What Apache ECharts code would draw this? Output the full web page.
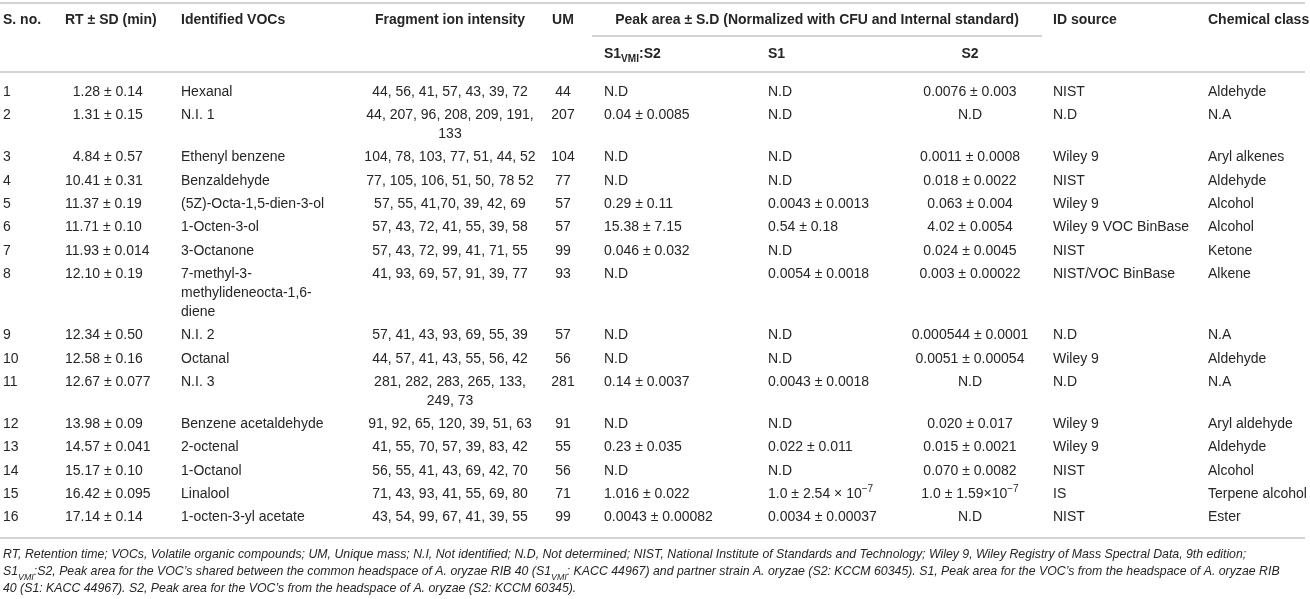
<!DOCTYPE html>
<html>
<head>
<meta charset="utf-8">
<script src="https://cdn.jsdelivr.net/npm/echarts/dist/echarts.min.js"></script>
<style>
html,body{margin:0;padding:0;background:#fff;}
#chart{width:1310px;height:599px;}
</style>
</head>
<body>
<div id="chart"></div>
<script>
// ---------------- DATA ----------------
const headerLabels = ['S. no.', 'RT ± SD (min)', 'Identified VOCs', 'Fragment ion intensity', 'UM',
  'Peak area ± S.D (Normalized with CFU and Internal standard)', 'ID source', 'Chemical class'];
const subHeaderLabels = ['S1_{VMI}:S2', 'S1', 'S2'];

const sNo = ['1','2','3','4','5','6','7','8','9','10','11','12','13','14','15','16'];
const retentionTime = ['1.28 ± 0.14','1.31 ± 0.15','4.84 ± 0.57','10.41 ± 0.31','11.37 ± 0.19','11.71 ± 0.10',
  '11.93 ± 0.014','12.10 ± 0.19','12.34 ± 0.50','12.58 ± 0.16','12.67 ± 0.077','13.98 ± 0.09',
  '14.57 ± 0.041','15.17 ± 0.10','16.42 ± 0.095','17.14 ± 0.14'];
const identifiedVOCs = ['Hexanal','N.I. 1','Ethenyl benzene','Benzaldehyde','(5Z)-Octa-1,5-dien-3-ol','1-Octen-3-ol',
  '3-Octanone','7-methyl-3-\nmethylideneocta-1,6-\ndiene','N.I. 2','Octanal','N.I. 3','Benzene acetaldehyde',
  '2-octenal','1-Octanol','Linalool','1-octen-3-yl acetate'];
const fragmentIons = ['44, 56, 41, 57, 43, 39, 72','44, 207, 96, 208, 209, 191,\n133','104, 78, 103, 77, 51, 44, 52',
  '77, 105, 106, 51, 50, 78 52','57, 55, 41,70, 39, 42, 69','57, 43, 72, 41, 55, 39, 58','57, 43, 72, 99, 41, 71, 55',
  '41, 93, 69, 57, 91, 39, 77','57, 41, 43, 93, 69, 55, 39','44, 57, 41, 43, 55, 56, 42','281, 282, 283, 265, 133,\n249, 73',
  '91, 92, 65, 120, 39, 51, 63','41, 55, 70, 57, 39, 83, 42','56, 55, 41, 43, 69, 42, 70','71, 43, 93, 41, 55, 69, 80',
  '43, 54, 99, 67, 41, 39, 55'];
const uniqueMass = ['44','207','104','77','57','57','99','93','57','56','281','91','55','56','71','99'];
const peakSharedS1S2 = ['N.D','0.04 ± 0.0085','N.D','N.D','0.29 ± 0.11','15.38 ± 7.15','0.046 ± 0.032','N.D','N.D','N.D',
  '0.14 ± 0.0037','N.D','0.23 ± 0.035','N.D','1.016 ± 0.022','0.0043 ± 0.00082'];
const peakS1 = ['N.D','N.D','N.D','N.D','0.0043 ± 0.0013','0.54 ± 0.18','N.D','0.0054 ± 0.0018','N.D','N.D',
  '0.0043 ± 0.0018','N.D','0.022 ± 0.011','N.D','1.0 ± 2.54 × 10^{−7}','0.0034 ± 0.00037'];
const peakS2 = ['0.0076 ± 0.003','N.D','0.0011 ± 0.0008','0.018 ± 0.0022','0.063 ± 0.004','4.02 ± 0.0054',
  '0.024 ± 0.0045','0.003 ± 0.00022','0.000544 ± 0.0001','0.0051 ± 0.00054','N.D','0.020 ± 0.017',
  '0.015 ± 0.0021','0.070 ± 0.0082','1.0 ± 1.59×10^{−7}','N.D'];
const idSource = ['NIST','N.D','Wiley 9','NIST','Wiley 9','Wiley 9 VOC BinBase','NIST','NIST/VOC BinBase','N.D',
  'Wiley 9','N.D','Wiley 9','Wiley 9','NIST','IS','NIST'];
const chemicalClass = ['Aldehyde','N.A','Aryl alkenes','Aldehyde','Alcohol','Alcohol','Ketone','Alkene','N.A',
  'Aldehyde','N.A','Aryl aldehyde','Aldehyde','Alcohol','Terpene alcohol','Ester'];
const footnoteLines = [
  'RT, Retention time; VOCs, Volatile organic compounds; UM, Unique mass; N.I, Not identified; N.D, Not determined; NIST, National Institute of Standards and Technology; Wiley 9, Wiley Registry of Mass Spectral Data, 9th edition;',
  'S1_{VMI}:S2, Peak area for the VOC\u2019s shared between the common headspace of A. oryzae RIB 40 (S1_{VMI}: KACC 44967) and partner strain A. oryzae (S2: KCCM 60345). S1, Peak area for the VOC\u2019s from the headspace of A. oryzae RIB',
  '40 (S1: KACC 44967). S2, Peak area for the VOC\u2019s from the headspace of A. oryzae (S2: KCCM 60345).'
];

// ---------------- LAYOUT / STYLE ----------------
const W = 1310, H = 599;
const FONT = '"Liberation Sans", Arial, Helvetica, sans-serif';
const BODY_SIZE = 14, HEAD_SIZE = 14;
const TEXT_COLOR = '#262626', RULE_COLOR = '#c4c4c4';
const Y_HEAD = 20, Y_SUB = 54, Y_FIRST = 92, ROW_PITCH = 23.3, LINE = 19;
const RULES = [ {x1:0,x2:1305,y:3}, {x1:592,x2:1042,y:36}, {x1:0,x2:1305,y:72}, {x1:0,x2:1305,y:538} ];
const FOOT_Y = [555, 572, 589], FOOT_X = 3, FOOT_WIDTH = 1290;
const columns = [
  {data: sNo,            x: 3,    align: 'left'},
  {data: retentionTime,  x: 65,   align: 'left', padSingleDigit: true},
  {data: identifiedVOCs, x: 181,  align: 'left'},
  {data: fragmentIons,   x: 450,  align: 'center'},
  {data: uniqueMass,     x: 563,  align: 'center'},
  {data: peakSharedS1S2, x: 604,  align: 'left'},
  {data: peakS1,         x: 768,  align: 'left'},
  {data: peakS2,         x: 970,  align: 'center'},
  {data: idSource,       x: 1053, align: 'left'},
  {data: chemicalClass,  x: 1208, align: 'left'}
];
const headerCols = [0,1,2,3,4,null,8,9];
const peakHeaderX = (RULES[1].x1 + RULES[1].x2) / 2;
const subHeaderCols = [5,6,7];

const ctx = document.createElement('canvas').getContext('2d');
function measure(text, size, weight, style){
  ctx.font = (style||'normal') + ' ' + (weight||'normal') + ' ' + size + 'px ' + FONT;
  return ctx.measureText(text).width;
}
const digitW = measure('0', BODY_SIZE);

// convert "_{x}" / "^{x}" markup to rich text
function toRich(s){
  let out = '';
  const re = /([_^])\{([^}]*)\}/g;
  let last = 0, m;
  while ((m = re.exec(s))){
    if (m.index > last) out += '{n|' + s.slice(last, m.index) + '}';
    out += '{' + (m[1] === '_' ? 'sub' : 'sup') + '|' + m[2] + '}';
    last = re.lastIndex;
  }
  if (last < s.length) out += '{n|' + s.slice(last) + '}';
  return out;
}
function plain(s){ return s.replace(/[_^]\{([^}]*)\}/g, '$1'); }
function richStyles(size, weight, style){
  return {
    n:   {fontSize: size, fontWeight: weight, fontStyle: style, fontFamily: FONT, fill: TEXT_COLOR, color: TEXT_COLOR, lineHeight: 20, verticalAlign: 'middle'},
    sub: {fontSize: size*0.72, fontWeight: weight, fontStyle: style, fontFamily: FONT, fill: TEXT_COLOR, color: TEXT_COLOR, lineHeight: 11, verticalAlign: 'bottom'},
    sup: {fontSize: size*0.72, fontWeight: weight, fontStyle: style, fontFamily: FONT, fill: TEXT_COLOR, color: TEXT_COLOR, lineHeight: 11, verticalAlign: 'top'}
  };
}

// build cell items
const cells = [];
let yCur = Y_FIRST;
for (let r = 0; r < sNo.length; r++){
  let nLines = 1;
  columns.forEach((c, ci) => {
    const lines = c.data[r].split('\n');
    nLines = Math.max(nLines, lines.length);
    let pad = 0;
    if (c.padSingleDigit && parseFloat(c.data[r]) < 10) pad = digitW;
    lines.forEach((ln, i) => cells.push({x: c.x + pad, y: yCur + i*LINE, text: ln, align: c.align, weight: 'normal', size: BODY_SIZE}));
  });
  yCur += ROW_PITCH + (nLines - 1) * LINE;
}
headerLabels.forEach((t, i) => {
  const ci = headerCols[i];
  if (ci === null) cells.push({x: peakHeaderX, y: Y_HEAD, text: t, align: 'center', weight: 'bold', size: HEAD_SIZE});
  else cells.push({x: columns[ci].x, y: Y_HEAD, text: t, align: columns[ci].align, weight: 'bold', size: HEAD_SIZE});
});
subHeaderLabels.forEach((t, i) => {
  const c = columns[subHeaderCols[i]];
  cells.push({x: c.x, y: Y_SUB, text: t, align: c.align, weight: 'bold', size: HEAD_SIZE});
});
// footnotes: fit the widest line to the available width
const footSize0 = 12;
const widest = Math.max.apply(null, footnoteLines.map(t => measure(plain(t), footSize0, 'normal', 'italic')));
const footSize = Math.min(12.5, footSize0 * FOOT_WIDTH / widest);
footnoteLines.forEach((t, i) => cells.push({x: FOOT_X, y: FOOT_Y[i], text: t, align: 'left', weight: 'normal', size: footSize, style: 'italic'}));

const chart = echarts.init(document.getElementById('chart'), null, {renderer: 'canvas'});
chart.setOption({
  animation: false,
  backgroundColor: '#fff',
  grid: {left: 0, right: 0, top: 0, bottom: 0},
  xAxis: {type: 'value', min: 0, max: W, show: false},
  yAxis: {type: 'value', min: 0, max: H, inverse: true, show: false},
  series: [
    {
      type: 'custom', silent: true, coordinateSystem: 'cartesian2d',
      data: RULES.map(r => [r.x1, r.y, r.x2]),
      renderItem: function(params, api){
        const p1 = api.coord([api.value(0), api.value(1)]);
        const p2 = api.coord([api.value(2), api.value(1)]);
        return {type: 'line', shape: {x1: p1[0], y1: p1[1], x2: p2[0], y2: p2[1]}, style: {stroke: RULE_COLOR, lineWidth: 1.6}};
      }
    },
    {
      type: 'custom', silent: true, coordinateSystem: 'cartesian2d',
      data: cells.map(c => [c.x, c.y]),
      renderItem: function(params, api){
        const c = cells[params.dataIndex];
        const p = api.coord([api.value(0), api.value(1)]);
        return {
          type: 'text', x: p[0], y: p[1],
          style: {
            text: toRich(c.text), rich: richStyles(c.size, c.weight, c.style || 'normal'),
            fontSize: c.size, fontFamily: FONT, fontWeight: c.weight, fill: TEXT_COLOR,
            align: c.align, verticalAlign: 'middle'
          }
        };
      }
    }
  ]
});
</script>
</body>
</html>
